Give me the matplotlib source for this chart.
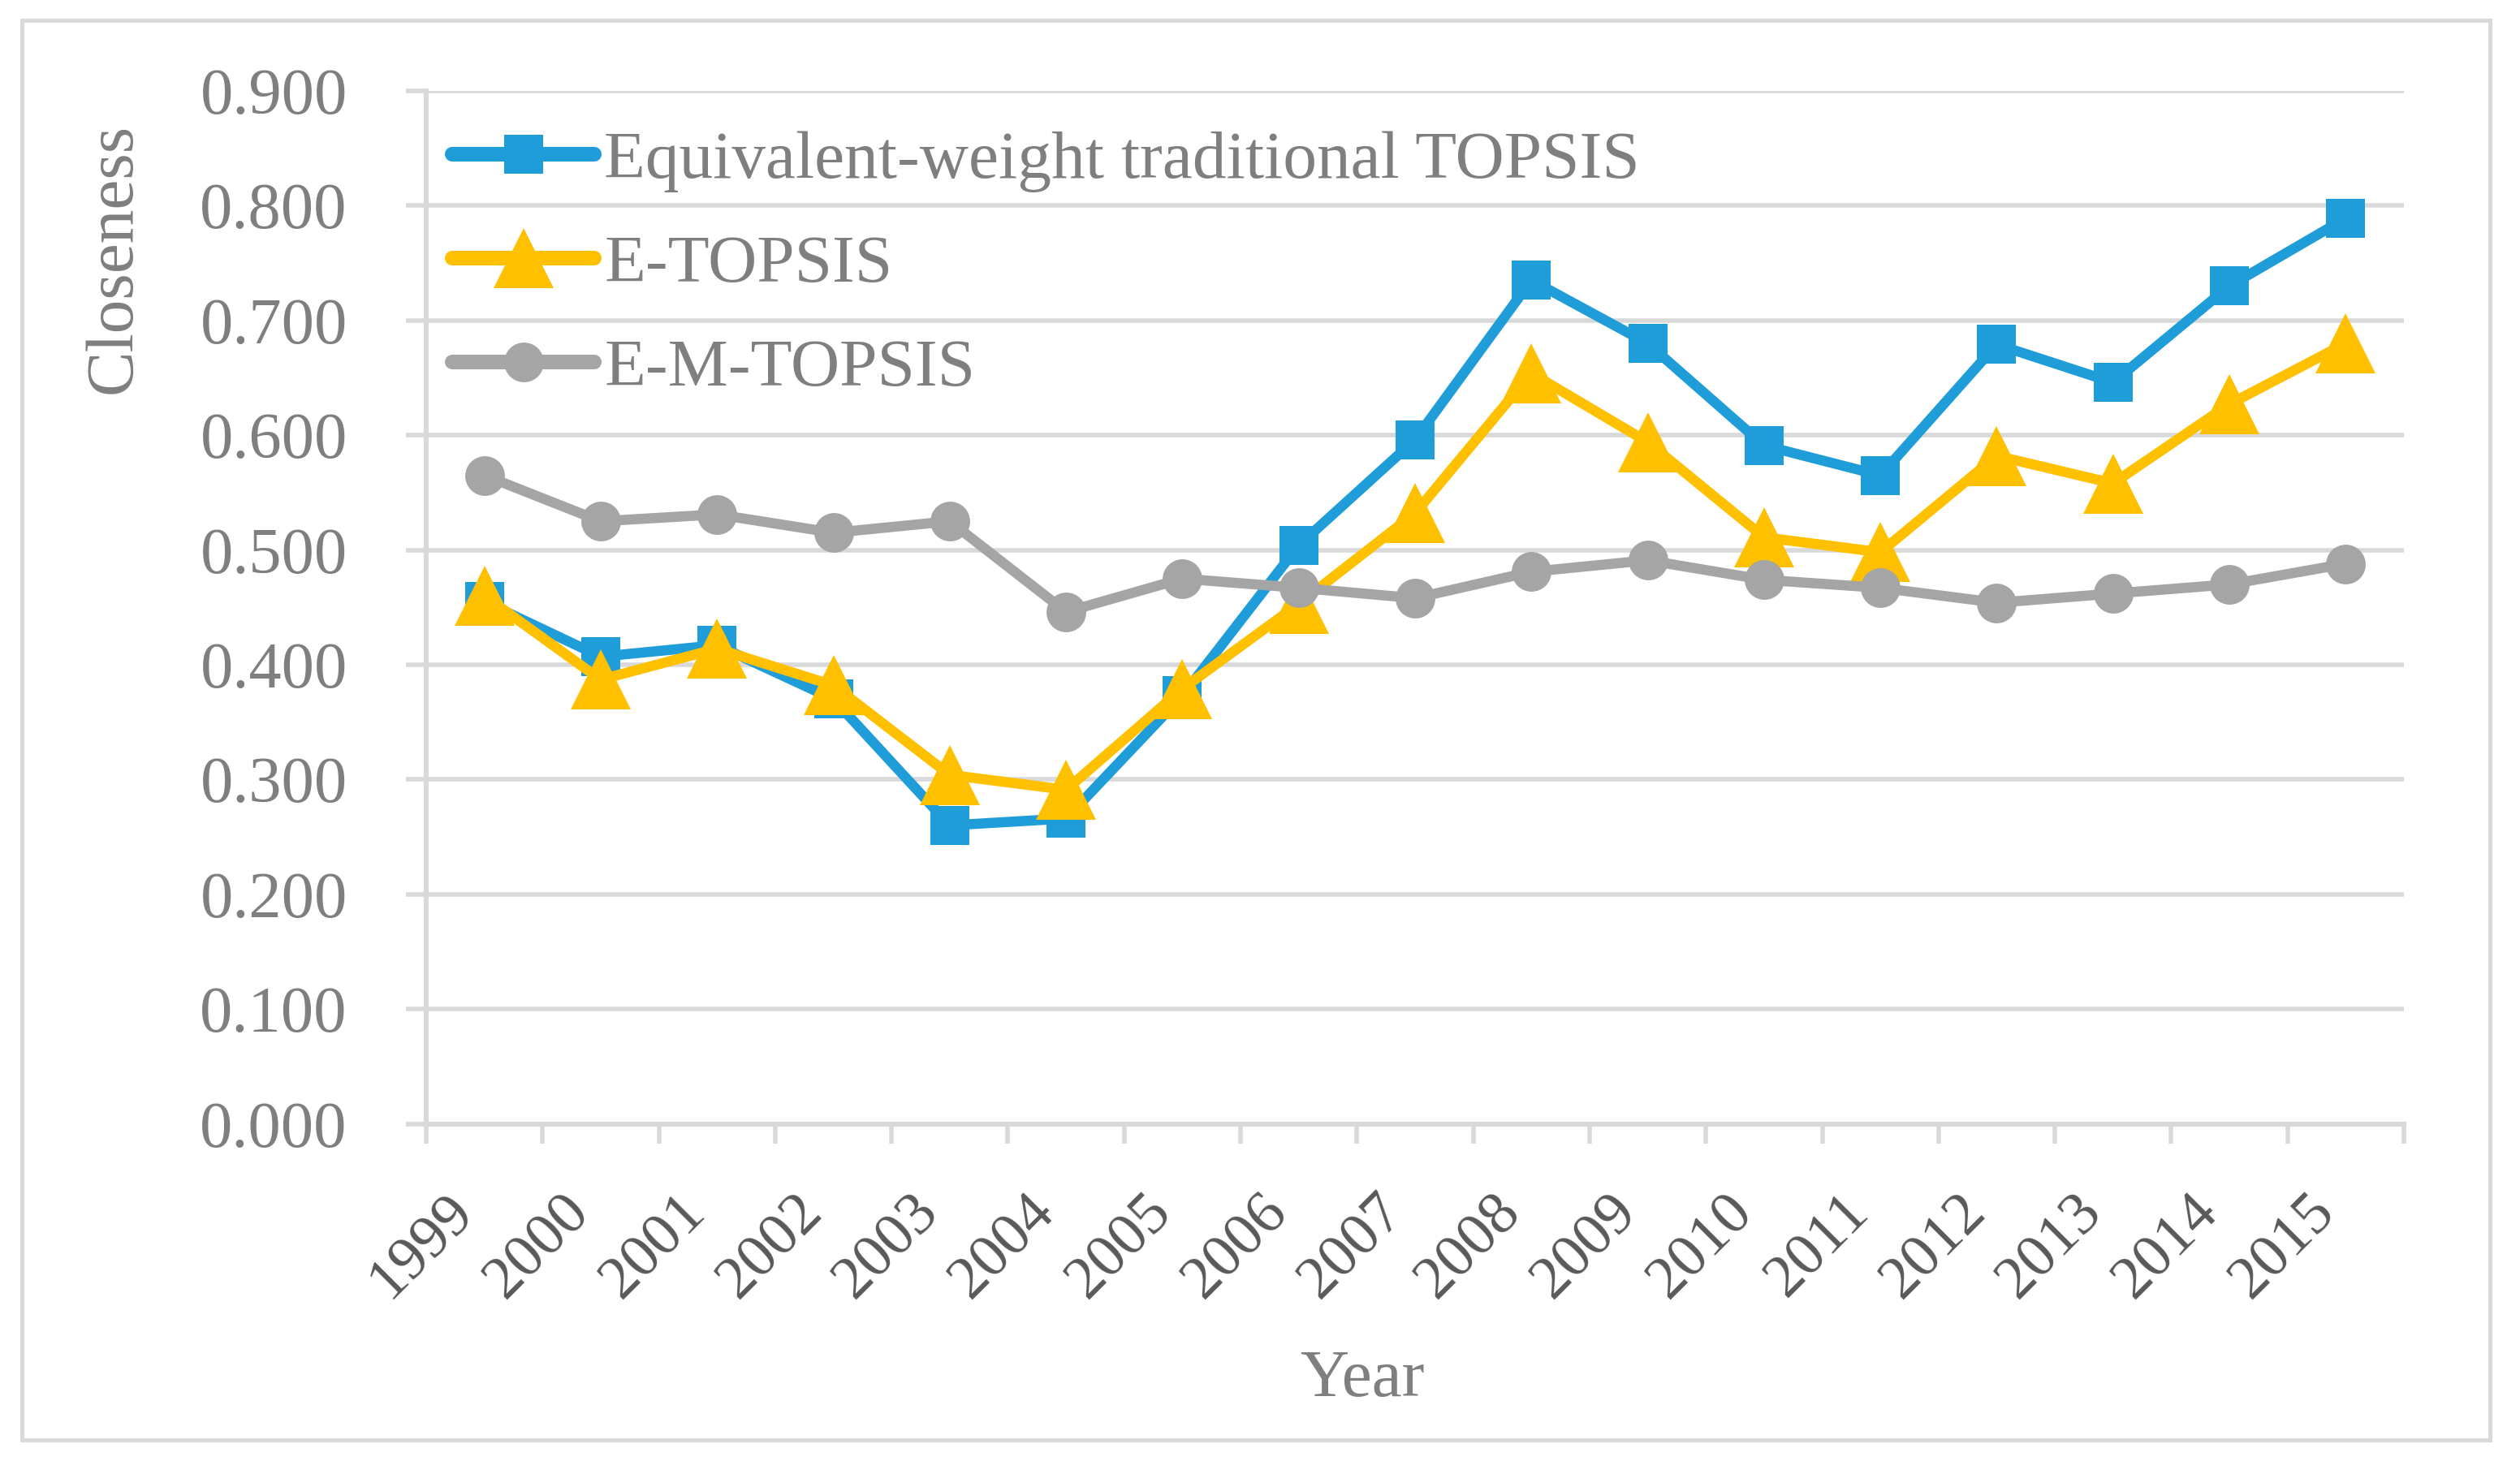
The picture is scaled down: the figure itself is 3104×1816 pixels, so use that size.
import matplotlib
matplotlib.use("Agg")
import matplotlib.pyplot as plt
from matplotlib.patches import Rectangle

# values
years = [str(y) for y in range(1999, 2016)]
traditional = [0.455, 0.407, 0.417, 0.370, 0.260, 0.266, 0.373, 0.504, 0.596,
               0.735, 0.680, 0.591, 0.565, 0.679, 0.646, 0.730, 0.789]
e_topsis = [0.460, 0.387, 0.414, 0.382, 0.304, 0.291, 0.379, 0.453, 0.532,
            0.654, 0.594, 0.511, 0.498, 0.582, 0.558, 0.627, 0.680]
e_m_topsis = [0.565, 0.525, 0.531, 0.515, 0.525, 0.446, 0.475, 0.467, 0.458,
              0.481, 0.491, 0.474, 0.467, 0.454, 0.462, 0.470, 0.488]
series_names = ["Equivalent-weight traditional TOPSIS", "E-TOPSIS", "E-M-TOPSIS"]
y_ticks = [i / 10 for i in range(10)]

plt.rcParams["font.family"] = ["Liberation Serif", "DejaVu Serif"]

W, H, DPI = 3104, 1816, 200
fig = plt.figure(figsize=(W / DPI, H / DPI), dpi=DPI)

# light outer frame, like the Excel chart area border
fig.patches.append(Rectangle((27 / W, 1 - 1774 / H), (3067 - 27) / W, (1774 - 25) / H,
                             transform=fig.transFigure, fill=False,
                             edgecolor="#d9d9d9", lw=1.8))

left, right, top, bottom = 525, 2961, 112, 1384.5
ax = fig.add_axes([left / W, 1 - bottom / H, (right - left) / W, (bottom - top) / H])

x = list(range(len(years)))
grid_c = "#d9d9d9"
line_kw = dict(lw=4.5, solid_joinstyle="round", markeredgewidth=0, clip_on=False)
ax.plot(x, traditional, "-s", color="#1f9dd9", ms=17.3, label=series_names[0], **line_kw)
ax.plot(x, e_topsis, "-^", color="#ffc000", ms=26.5, label=series_names[1], **line_kw)
ax.plot(x, e_m_topsis, "-o", color="#a5a5a5", ms=17.6, label=series_names[2], **line_kw)

ax.set_xlim(-0.5, len(years) - 0.5)
ax.set_ylim(0, 0.9)
ax.set_yticks(y_ticks)
ax.set_yticklabels(["%.3f" % v for v in y_ticks])
ax.grid(axis="y", color=grid_c, lw=2.0)
ax.set_axisbelow(True)

# Excel category axis: ticks between categories, labels at the centres
ax.set_xticks([i - 0.5 for i in range(len(years) + 1)])
ax.set_xticklabels([])
ax.set_xticks(x, minor=True)
ax.set_xticklabels(years, minor=True, rotation=45, ha="right", va="top",
                   fontsize=27, color="#595959")
ax.tick_params(axis="x", which="major", direction="out", length=8.6, width=2.0, color=grid_c)
ax.tick_params(axis="x", which="minor", length=0, pad=27)
ax.tick_params(axis="y", direction="out", length=9, width=2.0, color=grid_c,
               labelsize=29, labelcolor="#7f7f7f", pad=26)

for side in ("top", "right"):
    ax.spines[side].set_visible(False)
for side in ("left", "bottom"):
    ax.spines[side].set_color(grid_c)
    ax.spines[side].set_linewidth(2.2)

ax.set_ylabel("Closeness", fontsize=30, color="#7f7f7f", va="center")
ax.yaxis.set_label_coords((141 - left) / (right - left), (bottom - 318) / (bottom - top))
ax.set_xlabel("Year", fontsize=30, color="#7f7f7f", va="center")
ax.xaxis.set_label_coords((1678 - left) / (right - left), (bottom - 1700) / (bottom - top))

leg = ax.legend(loc="upper left", bbox_to_anchor=((557 - left) / (right - left),
                                                  (bottom - 161) / (bottom - top)),
                frameon=False, fontsize=30, handlelength=2.1, handletextpad=0.15,
                labelspacing=0.62, borderaxespad=0, borderpad=0)
for t in leg.get_texts():
    t.set_color("#7f7f7f")
for ln in leg.get_lines():
    ln.set_linewidth(6.5)
    ln.set_solid_capstyle("round")

fig.savefig("out.png", dpi=DPI, facecolor="white")
